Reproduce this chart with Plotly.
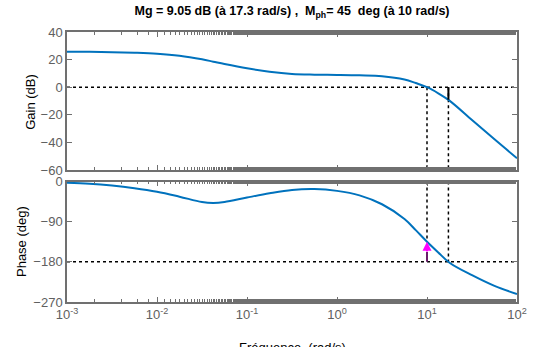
import plotly.graph_objects as go
from plotly.subplots import make_subplots
import math

# ---- data ----
freq = [0.001, 0.001778, 0.003162, 0.005623, 0.01, 0.01778, 0.03162, 0.0422,
        0.05623, 0.1, 0.1778, 0.3162, 0.5623, 1.0, 1.778, 3.162, 5.623, 7.499,
        10.0, 13.34, 17.78, 31.62, 56.23, 100.0]
gain_db = [25.7, 25.6, 25.4, 25.0, 24.3, 22.8, 20.2, 18.5,
           16.8, 13.7, 11.2, 9.6, 9.1, 8.9, 8.6, 8.0, 5.6, 3.0,
           0.0, -4.4, -9.7, -23.8, -37.8, -51.5]
phase_deg = [-3, -5, -9, -15, -23, -34, -46, -48,
             -46, -36, -26.5, -19, -17, -21, -31, -51, -84, -109,
             -135, -159, -182, -210, -234, -252]

gain_margin_db = 9.05
w_pc = 17.3          # phase crossover (rad/s)
phase_margin = 45
w_gc = 10.0          # gain crossover (rad/s)

x_ticks = [0.001, 0.01, 0.1, 1, 10, 100]
x_ticktext = ["10<sup>-3</sup>", "10<sup>-2</sup>", "10<sup>-1</sup>",
              "10<sup>0</sup>", "10<sup>1</sup>", "10<sup>2</sup>"]
gain_ticks = [40, 20, 0, -20, -40, -60]
phase_ticks = [0, -90, -180, -270]

# ---- layout geometry ----
W, H = 537, 347
ml, mr, mt, mb = 67, 10, 32, 45
ph = H - mt - mb
pw = W - ml - mr

def py(ypx):
    return (H - mb - ypx) / ph

fig = make_subplots(rows=2, cols=1, shared_xaxes=False)

blue = "#0072BD"
dot = dict(color="black", width=1.5, dash="dot")

# dotted reference lines (top)
fig.add_trace(go.Scatter(x=[freq[0], freq[-1]], y=[0, 0], mode="lines", line=dot), row=1, col=1)
fig.add_trace(go.Scatter(x=[w_gc, w_gc], y=[0, -60], mode="lines", line=dot), row=1, col=1)
fig.add_trace(go.Scatter(x=[w_pc, w_pc], y=[0, -60], mode="lines", line=dot), row=1, col=1)
# dotted reference lines (bottom)
fig.add_trace(go.Scatter(x=[freq[0], freq[-1]], y=[-180, -180], mode="lines", line=dot), row=2, col=1)
fig.add_trace(go.Scatter(x=[w_gc, w_gc], y=[0, -180 + phase_margin], mode="lines", line=dot), row=2, col=1)
fig.add_trace(go.Scatter(x=[w_pc, w_pc], y=[0, -180], mode="lines", line=dot), row=2, col=1)

# curves
fig.add_trace(go.Scatter(x=freq, y=gain_db, mode="lines",
                         line=dict(color=blue, width=2, shape="spline", smoothing=1.0)), row=1, col=1)
fig.add_trace(go.Scatter(x=freq, y=phase_deg, mode="lines",
                         line=dict(color=blue, width=2, shape="spline", smoothing=1.0)), row=2, col=1)

# gain margin bar
fig.add_trace(go.Scatter(x=[w_pc, w_pc], y=[0, -gain_margin_db], mode="lines",
                         line=dict(color="black", width=2)), row=1, col=1)
# phase margin arrow stem
fig.add_trace(go.Scatter(x=[w_gc, w_gc], y=[-180, -158], mode="lines",
                         line=dict(color="#6a1b6a", width=2)), row=2, col=1)

fig.add_annotation(x=math.log10(w_gc), y=-180 + phase_margin, xref="x2", yref="y2",
                   ax=math.log10(w_gc), ay=-160, axref="x2", ayref="y2",
                   text="", showarrow=True, arrowhead=2, arrowsize=0.9, arrowwidth=2,
                   arrowcolor="#ff00ff", standoff=0, startstandoff=0)

axcol = "#707070"
tickfont = dict(family="Liberation Sans, Arial, sans-serif", size=13, color="#606060")

common_x = dict(type="log", range=[-3, 2], showgrid=False, zeroline=False,
                showline=True, linecolor=axcol, linewidth=1.5, mirror="allticks",
                ticks="inside", ticklen=5, tickcolor=axcol, tickwidth=1,
                tickvals=x_ticks, ticktext=x_ticktext,
                minor=dict(ticks="inside", ticklen=3, tickcolor=axcol, tickwidth=1, showgrid=False),
                tickfont=tickfont)
common_y = dict(showgrid=False, zeroline=False, showline=True, linecolor=axcol, linewidth=1.5,
                mirror="allticks", ticks="inside", ticklen=5, tickcolor=axcol, tickwidth=1,
                tickfont=tickfont)

fig.update_xaxes(**common_x, showticklabels=False, domain=[0, 1], row=1, col=1)
fig.update_xaxes(**common_x, showticklabels=True, domain=[0, 1], row=2, col=1)
fig.update_yaxes(**common_y, range=[-60, 40], tickvals=gain_ticks, domain=[py(170), py(32)], row=1, col=1)
fig.update_yaxes(**common_y, range=[-270, 0], tickvals=phase_ticks, domain=[py(302), py(181.5)], row=2, col=1)

labfont = dict(family="Liberation Sans, Arial, sans-serif", size=13, color="black")
fig.add_annotation(text="Gain (dB)", xref="paper", yref="paper",
                   x=(29 - ml) / pw, y=py(102), textangle=-90,
                   showarrow=False, font=labfont, xanchor="center", yanchor="middle")
fig.add_annotation(text="Phase (deg)", xref="paper", yref="paper",
                   x=(20 - ml) / pw, y=py(242), textangle=-90,
                   showarrow=False, font=labfont, xanchor="center", yanchor="middle")
fig.add_annotation(text="Fréquence  (rad/s)", xref="paper", yref="paper",
                   x=(297 - ml) / pw, y=py(338), yanchor="top",
                   showarrow=False, font=labfont, xanchor="center")

fig.update_layout(
    width=W, height=H,
    margin=dict(l=ml, r=mr, t=mt, b=mb),
    paper_bgcolor="white", plot_bgcolor="white",
    showlegend=False,
    title=dict(text="<b>Mg = 9.05 dB (à 17.3 rad/s) ,  M<sub>ph</sub>= 45  deg (à 10 rad/s)</b>",
               x=(297 - ml) / pw, xref="paper", xanchor="center",
               y=1 - 11 / H, yref="container", yanchor="middle",
               font=dict(family="Liberation Sans, Arial, sans-serif", size=12.5, color="black")),
)

fig.write_html("out.html")
